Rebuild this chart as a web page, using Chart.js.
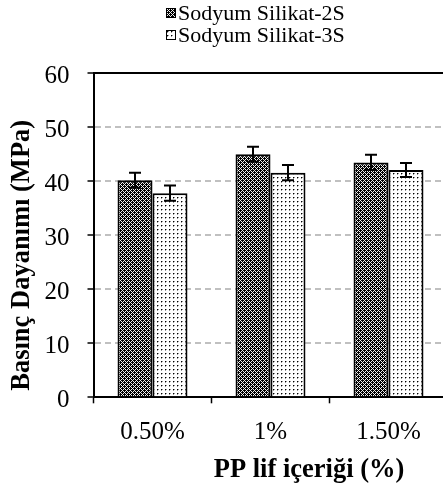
<!DOCTYPE html>
<html>
<head>
<meta charset="utf-8">
<script src="https://cdn.jsdelivr.net/npm/chart.js@4/dist/chart.umd.min.js"></script>
<style>
  html, body { margin:0; padding:0; background:#fff; overflow:hidden; }
  #wrap { position:relative; width:443px; height:493px; overflow:hidden; }
  #legend { position:absolute; left:166px; top:2px; font-family:"Liberation Serif", serif; font-size:22px; color:#000; }
  .li { display:flex; align-items:center; height:22px; }
  .li canvas { width:10px; height:10px; margin-right:2px; }
</style>
</head>
<body>
<div id="wrap">
  <canvas id="chart" width="450" height="493"></canvas>
  <div id="legend"></div>
</div>
<script>
// Data
const categories = ['0.50%', '1%', '1.50%'];
const seriesNames = ['Sodyum Silikat-2S', 'Sodyum Silikat-3S'];
const values2S = [40.2, 45.0, 43.5];
const values3S = [37.8, 41.6, 42.1];
const err2S = [1.4, 1.4, 1.4];
const err3S = [1.4, 1.4, 1.3];
const yTicks = [0, 10, 20, 30, 40, 50, 60];
const xTitle = 'PP lif içeriği (%)';
const yTitle = 'Basınç Dayanımı (MPa)';

const FONT = '"Liberation Serif", "Times New Roman", serif';

// fill patterns
function makePattern(kind){
  const c = document.createElement('canvas');
  c.width = 4; c.height = 4;
  const g = c.getContext('2d');
  if(kind === 'dark'){
    g.fillStyle = '#000'; g.fillRect(0,0,4,4);
    g.fillStyle = '#f0f0f0';
    [[0,0],[1,1],[2,2],[3,3],[1,3],[3,1]].forEach(([x,y]) => g.fillRect(x,y,1,1));
  } else {
    g.fillStyle = '#fff'; g.fillRect(0,0,4,4);
    g.fillStyle = '#000'; g.fillRect(1,1,1,1);
    g.fillStyle = '#999'; g.fillRect(2,1,1,1); g.fillRect(1,2,1,1);
  }
  return c;
}
const tiles = [makePattern('dark'), makePattern('light')];
const ctx = document.getElementById('chart').getContext('2d');
const patterns = tiles.map(t => ctx.createPattern(t, 'repeat'));

// legend (html)
const legend = document.getElementById('legend');
seriesNames.forEach((name, i) => {
  const row = document.createElement('div');
  row.className = 'li';
  const sw = document.createElement('canvas');
  sw.width = 10; sw.height = 10;
  const sctx = sw.getContext('2d');
  sctx.fillStyle = sctx.createPattern(tiles[i], 'repeat');
  sctx.fillRect(0,0,10,10);
  sctx.strokeStyle = '#000'; sctx.lineWidth = 1;
  sctx.strokeRect(0.5,0.5,9,9);
  row.appendChild(sw);
  const t = document.createElement('span');
  t.textContent = name;
  row.appendChild(t);
  legend.appendChild(row);
});

// error bars, drawn from the y scale
const errorBars = {
  id: 'errorBars',
  afterDatasetsDraw(chart){
    const c = chart.ctx;
    const y = chart.scales.y;
    const errs = [err2S, err3S];
    c.save();
    c.strokeStyle = '#000';
    c.lineWidth = 2;
    chart.data.datasets.forEach((ds, di) => {
      chart.getDatasetMeta(di).data.forEach((bar, i) => {
        const v = ds.data[i], e = errs[di][i];
        const top = y.getPixelForValue(v + e), bot = y.getPixelForValue(v - e);
        c.beginPath();
        c.moveTo(bar.x, top); c.lineTo(bar.x, bot);
        c.moveTo(bar.x - 6, top); c.lineTo(bar.x + 6, top);
        c.moveTo(bar.x - 6, bot); c.lineTo(bar.x + 6, bot);
        c.stroke();
      });
    });
    c.restore();
  }
};

// axis titles
const axisTitles = {
  id: 'axisTitles',
  afterDraw(chart){
    const c = chart.ctx, a = chart.chartArea;
    c.save();
    c.fillStyle = '#000';
    c.font = 'bold 26.5px ' + FONT;
    c.textAlign = 'center';
    c.textBaseline = 'middle';
    c.fillText(xTitle, a.left + 215.5, a.bottom + 73);
    c.translate(22, a.top + 182);
    c.rotate(-Math.PI/2);
    c.fillText(yTitle, 0, 0);
    c.restore();
  }
};

new Chart(ctx, {
  type: 'bar',
  data: {
    labels: categories,
    datasets: [
      { label: seriesNames[0], data: values2S, backgroundColor: patterns[0], borderColor: '#000', borderWidth: 2 },
      { label: seriesNames[1], data: values3S, backgroundColor: patterns[1], borderColor: '#000', borderWidth: 2 },
    ]
  },
  options: {
    responsive: false,
    animation: false,
    layout: { padding: { top: 73.3, right: 2.5, left: 0, bottom: 0 } },
    datasets: { bar: { categoryPercentage: 0.593, barPercentage: 1.0 } },
    plugins: { legend: { display: false }, tooltip: { enabled: false } },
    scales: {
      x: {
        grid: { offset: true, drawOnChartArea: false, drawTicks: true, tickLength: 6, tickColor: '#000', tickWidth: 1.5, color: '#000' },
        border: { color: '#000', width: 2 },
        ticks: { color: '#000', font: { family: FONT, size: 25 }, padding: 14, maxRotation: 0 },
        afterFit: s => { s.height = 95.7; }
      },
      x2: {
        position: 'top',
        grid: { display: false },
        ticks: { display: false },
        border: { color: '#000', width: 2 },
        afterFit: s => { s.height = 0; }
      },
      y: {
        min: 0, max: 60,
        afterBuildTicks: s => { s.ticks = yTicks.map(v => ({ value: v })); },
        grid: {
          color: c => (c.tick && (c.tick.value === 0 || c.tick.value === 60)) ? 'rgba(0,0,0,0)' : '#c0c0c0',
          lineWidth: 2,
          tickLength: 6, tickColor: '#000', tickWidth: 1.5, tickBorderDash: []
        },
        border: { color: '#000', width: 2, dash: [6, 4] },
        ticks: { color: '#000', font: { family: FONT, size: 25 }, padding: 18, labelOffset: 3 },
        afterFit: s => { s.width = 93.5; }
      }
    }
  },
  plugins: [errorBars, axisTitles]
});
</script>
</body>
</html>
